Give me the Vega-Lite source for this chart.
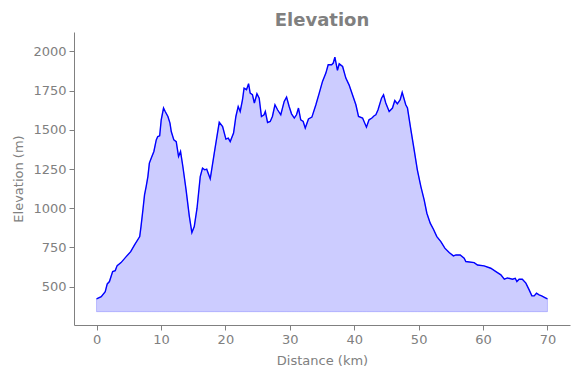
{
  "$schema": "https://vega.github.io/schema/vega-lite/v6.json",
  "autosize": {"type": "none"},
  "width": 496,
  "height": 293,
  "padding": {"left": 74, "top": 32, "right": 10, "bottom": 53},
  "background": "white",
  "title": {"text": "Elevation", "fontSize": 18, "fontWeight": "bold", "color": "#808080", "font": "DejaVu Sans", "anchor": "middle", "offset": 7, "baseline": "alphabetic", "dy": 19},
  "config": {
    "view": {"stroke": null},
    "axis": {"grid": false, "domainColor": "#808080", "tickColor": "#808080", "labelColor": "#808080", "titleColor": "#808080", "labelFont": "DejaVu Sans", "titleFont": "DejaVu Sans", "labelFontSize": 13, "titleFontSize": 13, "titleFontWeight": "normal", "tickSize": 5, "labelPadding": 3, "domainWidth": 1, "tickWidth": 1}
  },
  "data": {"values": [
    {"d":0,"e":421},{"d":0.73,"e":436},{"d":1.35,"e":468},{"d":1.66,"e":517},{"d":2.0,"e":532},{"d":2.5,"e":596},{"d":2.9,"e":602},{"d":3.2,"e":634},{"d":3.8,"e":653},{"d":4.6,"e":691},{"d":5.3,"e":723},{"d":5.9,"e":766},{"d":6.7,"e":819},{"d":6.9,"e":883},{"d":7.2,"e":990},{"d":7.45,"e":1085},{"d":7.7,"e":1138},{"d":7.97,"e":1202},{"d":8.2,"e":1288},{"d":8.5,"e":1320},{"d":8.9,"e":1362},{"d":9.27,"e":1436},{"d":9.5,"e":1457},{"d":9.8,"e":1462},{"d":10.04,"e":1564},{"d":10.4,"e":1639},{"d":10.66,"e":1617},{"d":11.08,"e":1585},{"d":11.4,"e":1543},{"d":11.6,"e":1489},{"d":12.0,"e":1436},{"d":12.37,"e":1425},{"d":12.73,"e":1330},{"d":13.04,"e":1362},{"d":13.4,"e":1266},{"d":13.9,"e":1117},{"d":14.4,"e":950},{"d":14.8,"e":845},{"d":15.17,"e":883},{"d":15.6,"e":1000},{"d":16.1,"e":1202},{"d":16.45,"e":1256},{"d":16.8,"e":1245},{"d":17.1,"e":1249},{"d":17.65,"e":1188},{"d":18.27,"e":1350},{"d":18.7,"e":1460},{"d":19.05,"e":1548},{"d":19.57,"e":1521},{"d":20.08,"e":1441},{"d":20.45,"e":1447},{"d":20.75,"e":1425},{"d":21.27,"e":1479},{"d":21.63,"e":1585},{"d":21.99,"e":1649},{"d":22.3,"e":1617},{"d":22.66,"e":1692},{"d":22.9,"e":1766},{"d":23.28,"e":1756},{"d":23.6,"e":1794},{"d":23.85,"e":1734},{"d":24.2,"e":1724},{"d":24.5,"e":1671},{"d":24.9,"e":1730},{"d":25.25,"e":1702},{"d":25.6,"e":1585},{"d":26.0,"e":1596},{"d":26.2,"e":1617},{"d":26.55,"e":1547},{"d":26.96,"e":1553},{"d":27.3,"e":1585},{"d":27.7,"e":1660},{"d":28.1,"e":1628},{"d":28.6,"e":1596},{"d":29.13,"e":1681},{"d":29.5,"e":1709},{"d":29.9,"e":1649},{"d":30.27,"e":1602},{"d":30.7,"e":1575},{"d":31.04,"e":1596},{"d":31.35,"e":1639},{"d":31.7,"e":1564},{"d":32.08,"e":1553},{"d":32.4,"e":1511},{"d":32.9,"e":1569},{"d":33.43,"e":1581},{"d":34.05,"e":1660},{"d":34.57,"e":1734},{"d":35.08,"e":1809},{"d":35.6,"e":1862},{"d":35.96,"e":1915},{"d":36.5,"e":1915},{"d":36.75,"e":1926},{"d":37.0,"e":1964},{"d":37.4,"e":1879},{"d":37.67,"e":1921},{"d":38.2,"e":1904},{"d":38.7,"e":1830},{"d":39.2,"e":1787},{"d":39.73,"e":1724},{"d":40.26,"e":1660},{"d":40.67,"e":1585},{"d":41.3,"e":1575},{"d":41.9,"e":1517},{"d":42.3,"e":1564},{"d":42.75,"e":1575},{"d":43.1,"e":1590},{"d":43.36,"e":1596},{"d":43.7,"e":1628},{"d":44.24,"e":1702},{"d":44.55,"e":1724},{"d":44.9,"e":1671},{"d":45.43,"e":1617},{"d":45.94,"e":1639},{"d":46.3,"e":1687},{"d":46.7,"e":1666},{"d":47.14,"e":1692},{"d":47.45,"e":1739},{"d":48.0,"e":1660},{"d":48.27,"e":1639},{"d":48.8,"e":1500},{"d":49.3,"e":1373},{"d":49.8,"e":1245},{"d":50.35,"e":1138},{"d":50.86,"e":1053},{"d":51.28,"e":968},{"d":51.8,"e":905},{"d":52.3,"e":866},{"d":52.83,"e":819},{"d":53.45,"e":787},{"d":54.07,"e":745},{"d":54.74,"e":717},{"d":55.4,"e":696},{"d":55.8,"e":702},{"d":56.45,"e":702},{"d":57.07,"e":681},{"d":57.33,"e":660},{"d":58.62,"e":653},{"d":59.14,"e":638},{"d":60.17,"e":632},{"d":61.2,"e":617},{"d":62.0,"e":596},{"d":62.77,"e":575},{"d":63.3,"e":547},{"d":63.8,"e":555},{"d":64.57,"e":547},{"d":65.0,"e":553},{"d":65.25,"e":532},{"d":65.6,"e":547},{"d":66.1,"e":547},{"d":66.65,"e":522},{"d":67.16,"e":479},{"d":67.58,"e":441},{"d":67.94,"e":441},{"d":68.3,"e":458},{"d":68.7,"e":447},{"d":69.1,"e":441},{"d":69.6,"e":430},{"d":70.0,"e":421}
  ]},
  "encoding": {
    "x": {"field": "d", "type": "quantitative", "title": "Distance (km)", "scale": {"domain": [-3.5, 73.5], "nice": false, "zero": false}, "axis": {"values": [0,10,20,30,40,50,60,70], "format": "d", "titlePadding": 8}},
    "y": {"field": "e", "type": "quantitative", "title": "Elevation (m)", "scale": {"domain": [255, 2124], "nice": false, "zero": false}, "axis": {"values": [500,750,1000,1250,1500,1750,2000], "format": "d", "titlePadding": 7}}
  },
  "layer": [
    {"mark": {"type": "area", "color": "blue", "fillOpacity": 0.2, "stroke": "blue", "strokeOpacity": 0.2, "strokeWidth": 1}, "encoding": {"y2": {"datum": 340}}},
    {"mark": {"type": "line", "color": "blue", "strokeWidth": 1.4}}
  ]
}
